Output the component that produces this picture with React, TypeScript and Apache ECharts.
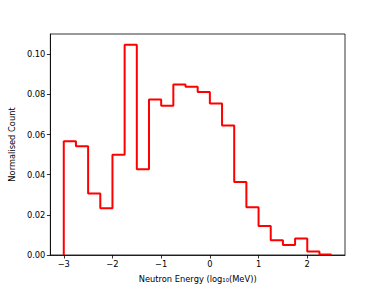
import React, { useEffect, useRef } from "react";
import * as echarts from "echarts";

const binEdges = [-3, -2.75, -2.5, -2.25, -2, -1.75, -1.5, -1.25, -1, -0.75, -0.5, -0.25, 0, 0.25, 0.5, 0.75, 1, 1.25, 1.5, 1.75, 2, 2.25, 2.5];
const counts = [0.0567, 0.0542, 0.0306, 0.0233, 0.0499, 0.1048, 0.0427, 0.0775, 0.0744, 0.085, 0.0838, 0.0812, 0.0755, 0.0645, 0.0364, 0.0238, 0.0144, 0.0074, 0.005, 0.0082, 0.0018, 0.0003];
const xTicks = [-3, -2, -1, 0, 1, 2];
const yTicks = [0, 0.02, 0.04, 0.06, 0.08, 0.1];

export default function App() {
  const ref = useRef<HTMLDivElement>(null);
  useEffect(() => {
    if (!ref.current) return;
    const chart = echarts.init(ref.current, null, { renderer: "svg" });
    const pts: number[][] = [[binEdges[0], 0]];
    counts.forEach((c, i) => {
      pts.push([binEdges[i], c]);
      pts.push([binEdges[i + 1], c]);
    });
    pts.push([binEdges[binEdges.length - 1], 0]);
    const font = "DejaVu Sans";
    chart.setOption({
      animation: false,
      grid: { left: 48, right: 39, top: 34, bottom: 32, show: true, borderColor: "#000", borderWidth: 0.8, backgroundColor: "transparent" },
      xAxis: {
        type: "value",
        min: -3.275,
        max: 2.775,
        name: "Neutron Energy (log\u2081\u2080(MeV))",
        nameLocation: "middle",
        nameGap: 20,
        nameTextStyle: { fontFamily: font, fontSize: 8.3, color: "#000" },
        axisLine: { show: true, onZero: false, lineStyle: { color: "#000", width: 0.8 } },
        axisTick: { show: true, inside: false, length: 3.5, customValues: xTicks, lineStyle: { color: "#000", width: 0.8 } },
        axisLabel: { customValues: xTicks, fontFamily: font, fontSize: 8.3, color: "#000", margin: 5, formatter: (v: number) => (v < 0 ? "\u2212" + Math.abs(v) : String(v)) },
        splitLine: { show: false },
      },
      yAxis: {
        type: "value",
        min: 0,
        max: 0.1101,
        name: "Normalised Count",
        nameLocation: "middle",
        nameGap: 30,
        nameTextStyle: { fontFamily: font, fontSize: 8.3, color: "#000" },
        axisLine: { show: true, onZero: false, lineStyle: { color: "#000", width: 0.8 } },
        axisTick: { show: true, inside: false, length: 3.5, customValues: yTicks, lineStyle: { color: "#000", width: 0.8 } },
        axisLabel: { customValues: yTicks, fontFamily: font, fontSize: 8.3, color: "#000", margin: 5, formatter: (v: number) => v.toFixed(2) },
        splitLine: { show: false },
      },
      series: [
        {
          type: "line",
          data: pts,
          symbol: "none",
          lineStyle: { color: "#ff0000", width: 2 },
          clip: false,
        },
      ],
    });
    return () => chart.dispose();
  }, []);
  return <div ref={ref} style={{ width: 384, height: 288, position: "absolute", left: 0, top: 0 }} />;
}
